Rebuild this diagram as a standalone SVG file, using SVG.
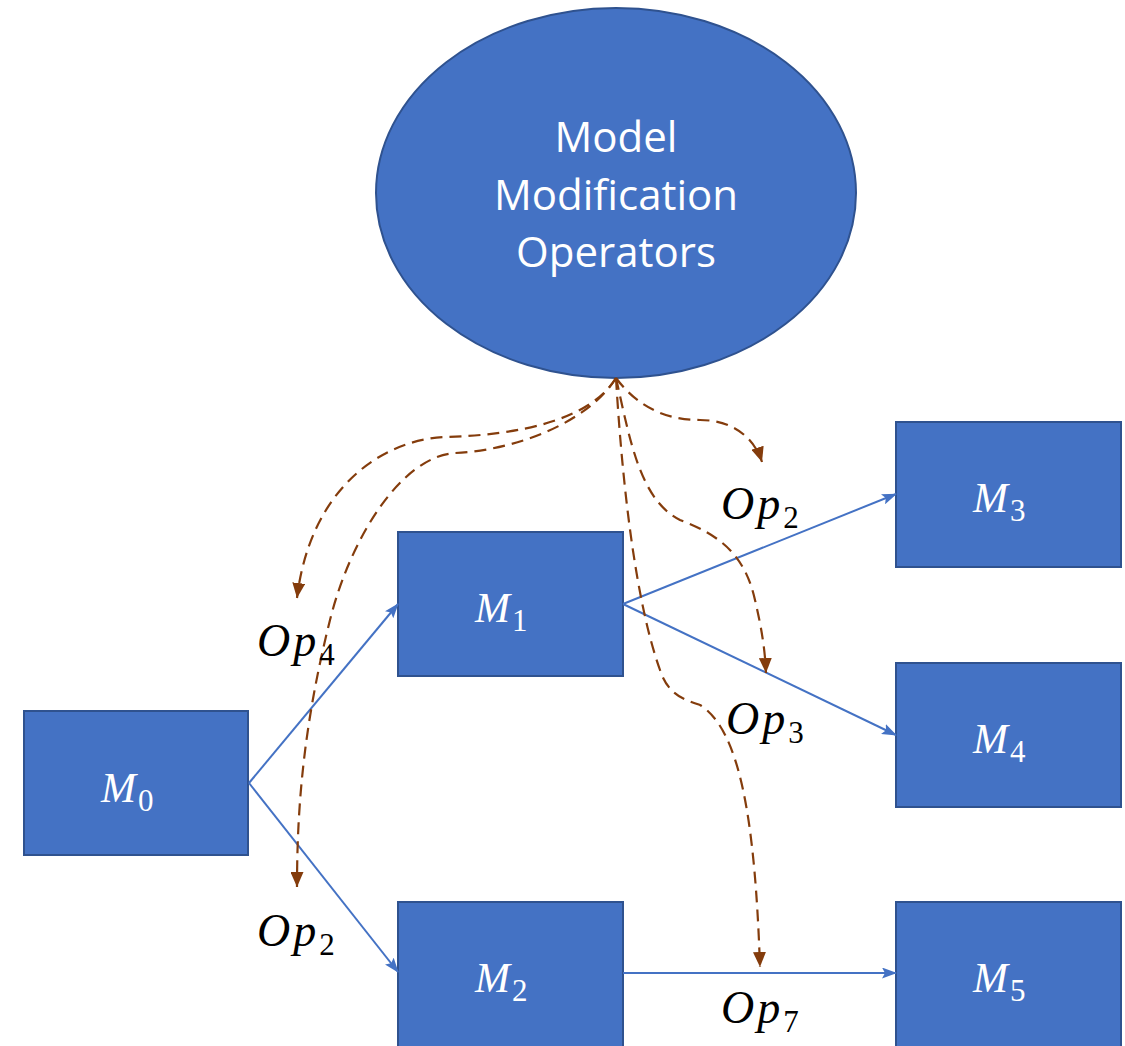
<svg xmlns="http://www.w3.org/2000/svg" width="1125" height="1046" viewBox="0 0 1125 1046">
<style>
.node{fill:#4472C4;stroke:#2F528F;stroke-width:2}
.nlabel{font-family:"Liberation Serif",serif;font-style:italic;font-size:42px;fill:#ffffff;letter-spacing:2px}
.nsub{font-family:"Liberation Serif",serif;font-style:normal;font-size:31px;fill:#ffffff}
.etext{font-family:"Open Sans",sans-serif;font-size:42px;fill:#ffffff;text-anchor:middle}
.op{font-family:"Liberation Serif",serif;font-style:italic;font-size:46px;fill:#000000;letter-spacing:3px}
.osub{font-style:normal;font-size:31px}
.blue{fill:none;stroke:#4472C4;stroke-width:2;marker-end:url(#ab)}
.brown{fill:none;stroke:#843C0C;stroke-width:2.2;stroke-dasharray:12,7;marker-end:url(#ar)}
</style>
<defs>
<marker id="ab" markerWidth="15" markerHeight="11" refX="14" refY="5.5" orient="auto" markerUnits="userSpaceOnUse"><path d="M0,0 L15,5.5 L0,11 L3,5.5 Z" fill="#4472C4"/></marker>
<marker id="ar" markerWidth="15" markerHeight="13" refX="15" refY="6.5" orient="auto" markerUnits="userSpaceOnUse"><path d="M0,0 L15,6.5 L0,13 Z" fill="#843C0C"/></marker>
</defs>
<g id="operators">
<ellipse cx="616" cy="193" rx="240" ry="185" class="node"/>
<text class="etext" x="616" y="152">Model</text>
<text class="etext" x="616" y="210">Modification</text>
<text class="etext" x="616" y="267">Operators</text>
</g>
<g id="M0"><rect x="24" y="711" width="224" height="144" class="node"/><text class="nlabel" x="101" y="802">M<tspan class="nsub" dy="9">0</tspan></text></g>
<g id="M1"><rect x="398" y="532" width="225" height="144" class="node"/><text class="nlabel" x="475" y="622">M<tspan class="nsub" dy="9">1</tspan></text></g>
<g id="M2"><rect x="398" y="902" width="225" height="150" class="node"/><text class="nlabel" x="475" y="992">M<tspan class="nsub" dy="9">2</tspan></text></g>
<g id="M3"><rect x="896" y="422" width="225" height="145" class="node"/><text class="nlabel" x="973" y="512">M<tspan class="nsub" dy="9">3</tspan></text></g>
<g id="M4"><rect x="896" y="663" width="225" height="144" class="node"/><text class="nlabel" x="973" y="753">M<tspan class="nsub" dy="9">4</tspan></text></g>
<g id="M5"><rect x="896" y="902" width="225" height="150" class="node"/><text class="nlabel" x="973" y="992">M<tspan class="nsub" dy="9">5</tspan></text></g>
<g id="connectors">
<path class="blue" d="M249,783 L398,604"/>
<path class="blue" d="M249,783 L398,972"/>
<path class="blue" d="M623,604 L896,494"/>
<path class="blue" d="M623,604 L896,735"/>
<path class="blue" d="M623,973 L896,973"/>
<path class="brown" d="M616,378 C590,420 520,435 445,437 C380,440 310,490 297,598"/>
<path class="brown" d="M616,378 C590,420 520,450 455,453 C400,457 350,540 330,620 C305,720 297,800 297,887"/>
<path class="brown" d="M616,378 C640,410 670,420 700,420 C735,420 755,440 762,462"/>
<path class="brown" d="M616,378 C630,440 640,500 680,520 C720,535 745,555 755,600 C762,630 765,650 766,673"/>
<path class="brown" d="M616,378 C622,480 635,600 660,670 C668,695 685,700 700,705 C740,730 755,820 760,967"/>
</g>
<g id="labels">
<text class="op" x="257" y="656">Op<tspan class="osub" dy="9">4</tspan></text>
<text class="op" x="721" y="519">Op<tspan class="osub" dy="9">2</tspan></text>
<text class="op" x="726" y="734">Op<tspan class="osub" dy="9">3</tspan></text>
<text class="op" x="257" y="946">Op<tspan class="osub" dy="9">2</tspan></text>
<text class="op" x="721" y="1023">Op<tspan class="osub" dy="9">7</tspan></text>
</g>
</svg>
